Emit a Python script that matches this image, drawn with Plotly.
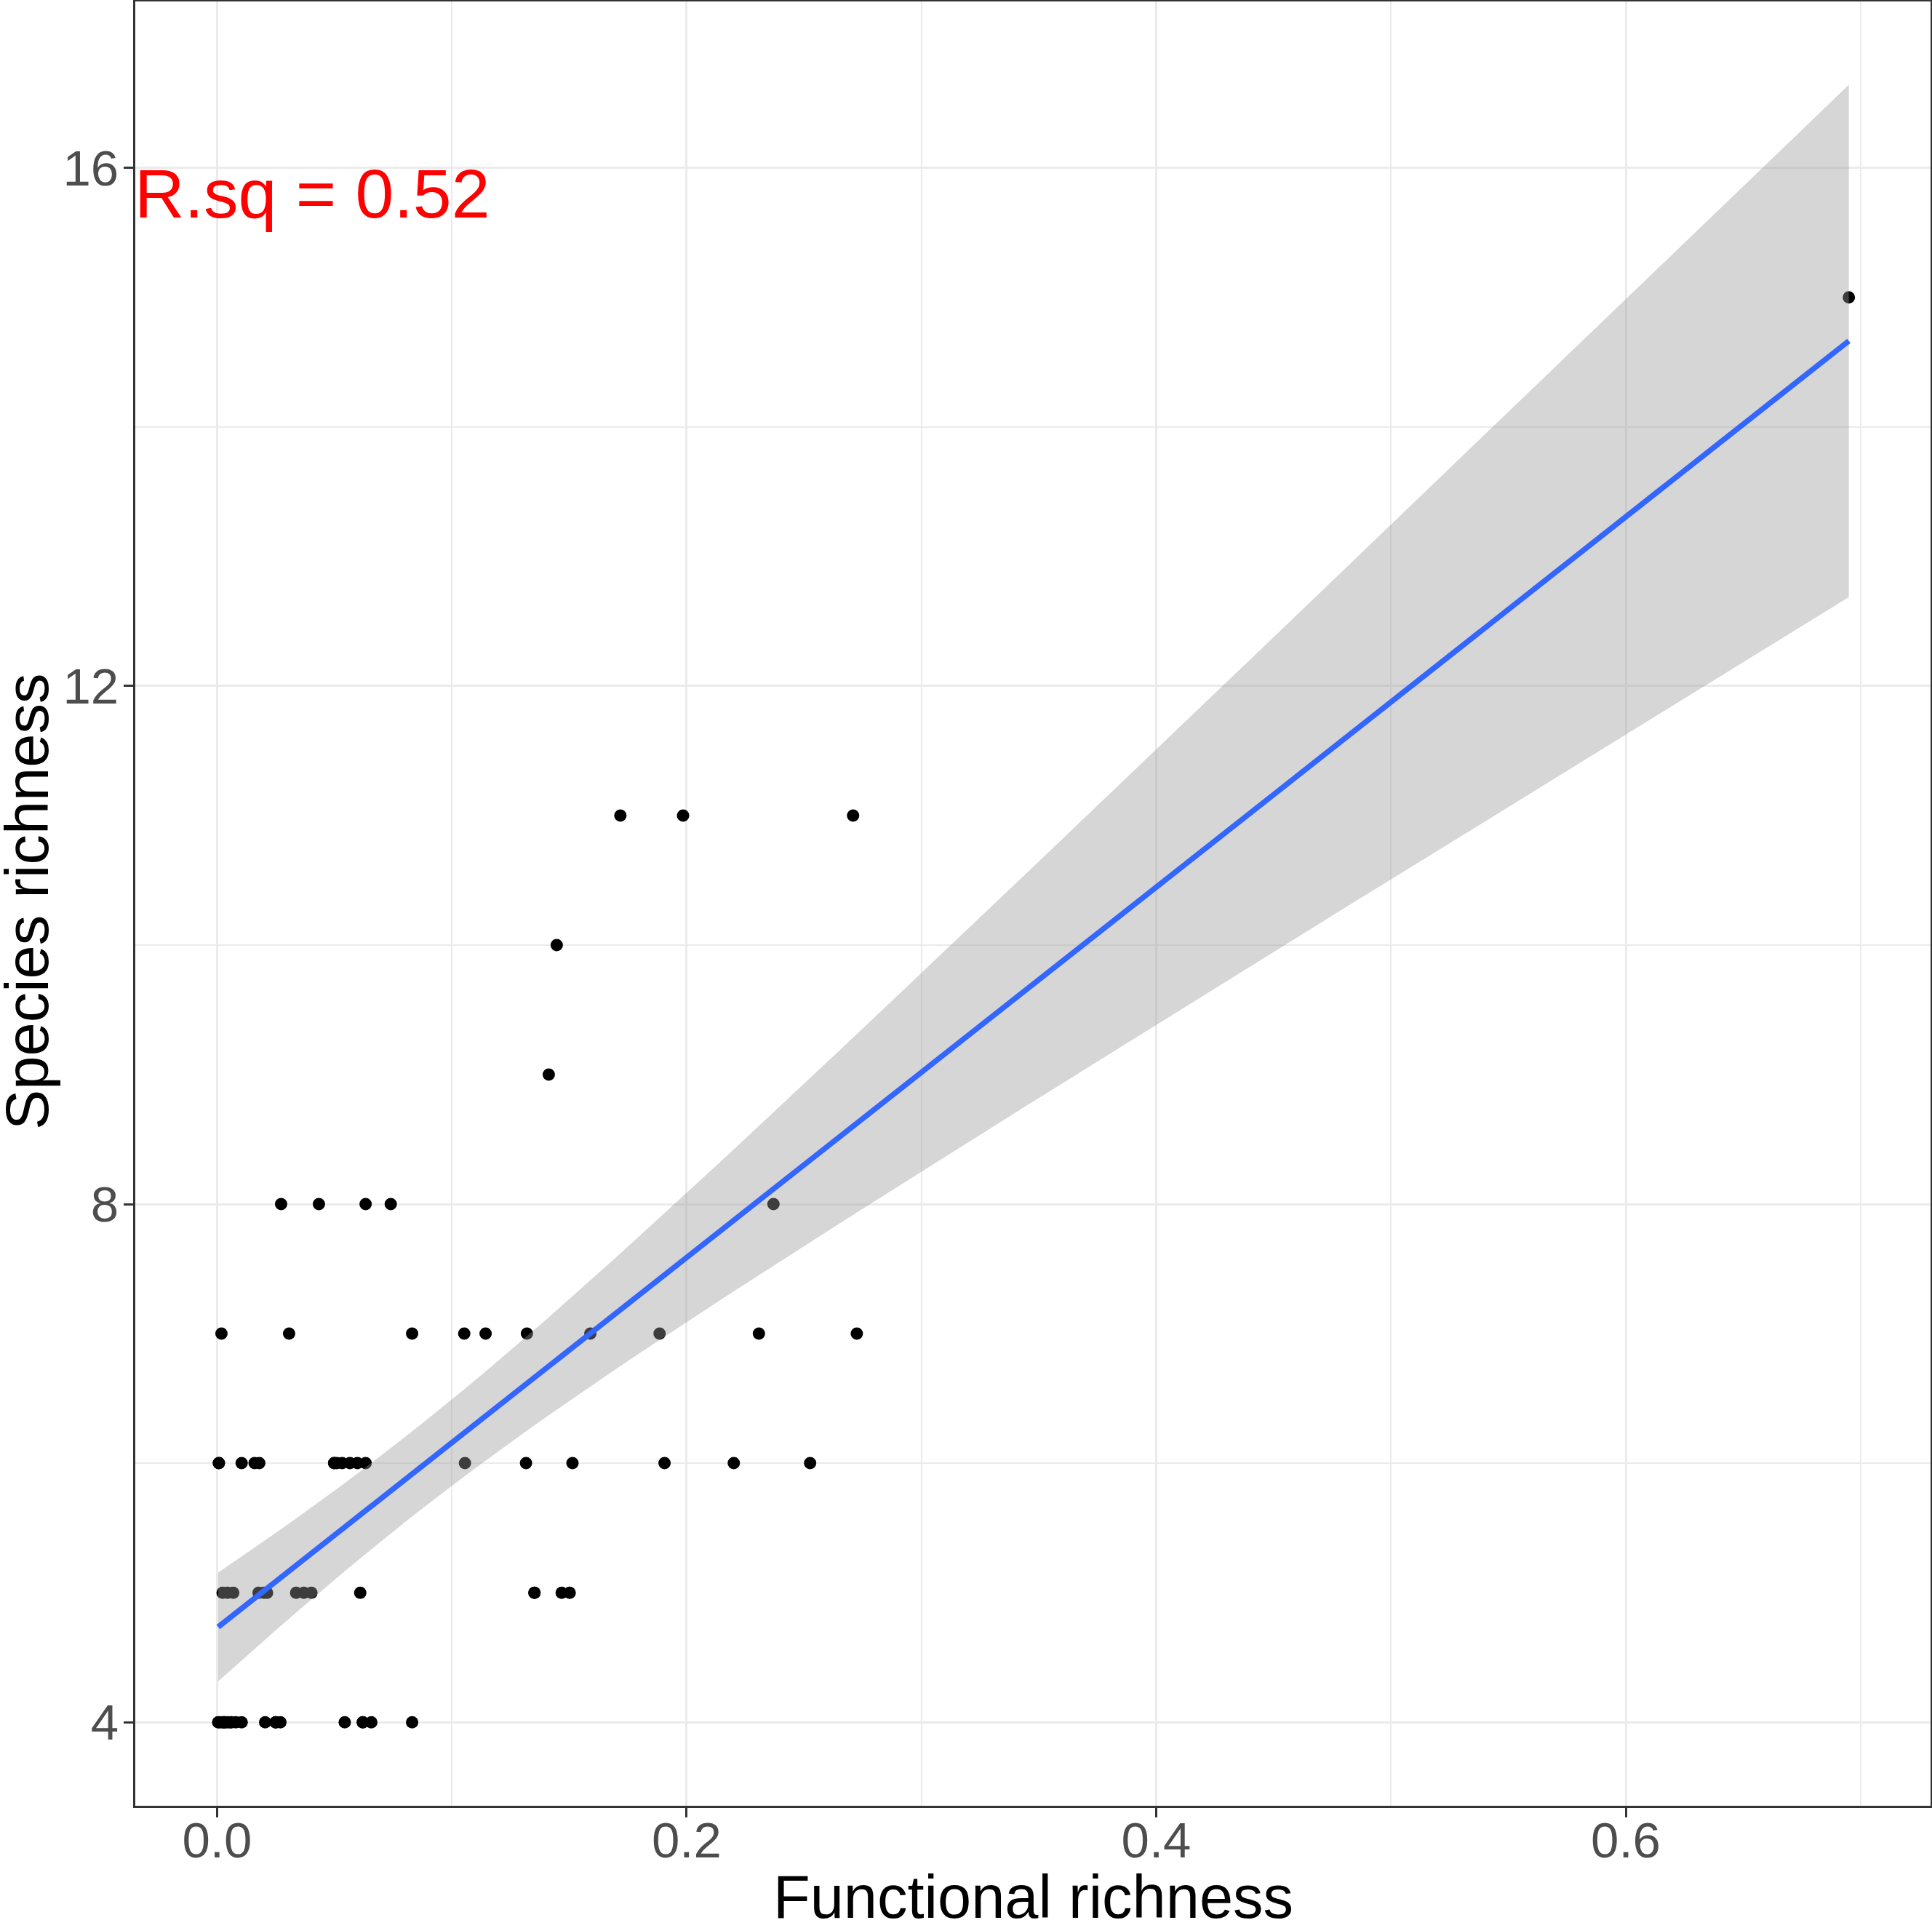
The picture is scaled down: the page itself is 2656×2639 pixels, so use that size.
import numpy as np
import plotly.graph_objects as go

# functional richness of each site, grouped by its species richness
fric_sr4 = [0.0005, 0.001, 0.002, 0.003, 0.003, 0.003, 0.004, 0.005, 0.006, 0.006, 0.008,
            0.0105, 0.0205, 0.025, 0.025, 0.025, 0.027, 0.0544, 0.0621, 0.0621, 0.0657, 0.0831]
fric_sr5 = [0.0024, 0.0045, 0.0069, 0.0177, 0.020, 0.0213, 0.0337, 0.037, 0.0402, 0.061,
            0.1352, 0.1352, 0.1468, 0.1502]
fric_sr6 = [0.0008, 0.0008, 0.0105, 0.016, 0.018, 0.0499, 0.0499, 0.051, 0.0533,
            0.0566, 0.0598, 0.0633, 0.1056, 0.1316, 0.1514, 0.1906, 0.2201, 0.2526]
fric_sr7 = [0.0019, 0.0307, 0.0831, 0.1053, 0.1144, 0.132, 0.159, 0.1885, 0.2308, 0.2725]
fric_sr8 = [0.0273, 0.0434, 0.0633, 0.074, 0.237]
fric_sr9 = [0.1413]
fric_sr10 = [0.1447]
fric_sr11 = [0.1718, 0.1985, 0.2709]
fric_sr15 = [0.695]

groups = {4: fric_sr4, 5: fric_sr5, 6: fric_sr6, 7: fric_sr7, 8: fric_sr8,
          9: fric_sr9, 10: fric_sr10, 11: fric_sr11, 15: fric_sr15}

rsq_label = "R.sq = 0.52"

x = np.array([v for sr, vals in groups.items() for v in vals])
y = np.array([sr for sr, vals in groups.items() for v in vals], dtype=float)

# lm fit with 95% confidence band (like geom_smooth(method="lm"))
n = len(x)
slope, intercept = np.polyfit(x, y, 1)
resid = y - (intercept + slope * x)
s = np.sqrt(np.sum(resid ** 2) / (n - 2))
sxx = np.sum((x - x.mean()) ** 2)
t975 = 1.993  # t quantile, df ~ 73
xs = np.linspace(x.min(), x.max(), 80)
fit = intercept + slope * xs
se = s * np.sqrt(1 / n + (xs - x.mean()) ** 2 / sxx)
upper = fit + t975 * se
lower = fit - t975 * se

font = "Liberation Sans, Arial, sans-serif"

fig = go.Figure()
fig.add_trace(go.Scatter(x=x, y=y, mode="markers",
                         marker=dict(size=17, color="black", line=dict(width=0)),
                         showlegend=False))
fig.add_trace(go.Scatter(x=np.concatenate([xs, xs[::-1]]),
                         y=np.concatenate([upper, lower[::-1]]),
                         fill="toself", fillcolor="rgba(153,153,153,0.4)",
                         line=dict(width=0), mode="lines", hoverinfo="skip",
                         showlegend=False))
fig.add_trace(go.Scatter(x=xs, y=fit, mode="lines",
                         line=dict(color="#3366FF", width=7.5), showlegend=False))

fig.add_annotation(x=-0.0348, y=16, xref="x", yref="y", text=rsq_label,
                   showarrow=False, xanchor="left", yanchor="top", yshift=20, xshift=-3,
                   font=dict(family=font, size=95, color="#FF0000"))

# axis titles placed by hand so they sit as close to the edges as in the original
fig.add_annotation(x=0.5, y=0, xref="paper", yref="paper", text="Functional richness",
                   showarrow=False, xanchor="center", yanchor="top", yshift=-77,
                   font=dict(family=font, size=83, color="black"))
fig.add_annotation(x=0, y=0.5, xref="paper", yref="paper", text="Species richness",
                   textangle=-90, showarrow=False, xanchor="center", yanchor="middle",
                   xshift=-149, yshift=2,
                   font=dict(family=font, size=83, color="black"))

axis_common = dict(
    showline=True, mirror=True, linecolor="#333333", linewidth=3,
    ticks="outside", ticklen=13, tickwidth=3.4, tickcolor="#333333",
    tickfont=dict(family=font, size=69, color="#4D4D4D"),
    showgrid=True, gridcolor="#EBEBEB", gridwidth=3.4, zeroline=False,
    automargin=False,
)

fig.update_layout(
    width=2656, height=2639,
    margin=dict(l=186, r=2, t=2, b=157),
    plot_bgcolor="white", paper_bgcolor="white",
    xaxis=dict(axis_common, range=[-0.0348, 0.7298], tick0=0, dtick=0.2,
               tickformat=".1f", ticklabelstandoff=-28,
               minor=dict(dtick=0.1, showgrid=True, gridcolor="#EBEBEB", gridwidth=1.7)),
    yaxis=dict(axis_common, range=[3.355, 17.285], tick0=0, dtick=4,
               ticklabelstandoff=-7,
               minor=dict(dtick=2, showgrid=True, gridcolor="#EBEBEB", gridwidth=1.7)),
)

fig.write_html("out.html", config={"displayModeBar": False},
               post_script="document.body.style.margin='0';"
                           "document.body.style.overflow='hidden';")
